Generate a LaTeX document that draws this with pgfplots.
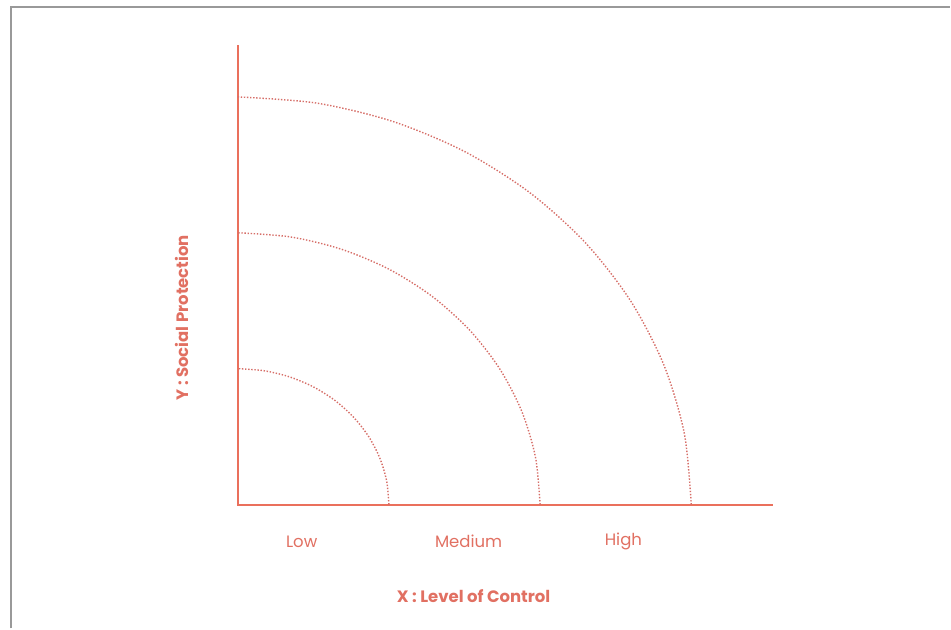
\documentclass[border=0pt]{standalone}
\usepackage{pgfplots}
\pgfplotsset{compat=1.18}
\usepackage{fontspec}
\setmainfont{Poppins}
\definecolor{coral}{RGB}{234,112,92}
\definecolor{coraltxt}{RGB}{225,112,98}
\definecolor{coraldot}{RGB}{214,110,104}
\begin{document}
\begin{tikzpicture}
\begin{axis}[
  scale only axis, width=951pt, height=629pt,
  xmin=-1.573, xmax=4.713, ymin=-0.912, ymax=3.713,
  hide axis, clip=false,
]
% full page extent
\path (rel axis cs:0,0) rectangle (rel axis cs:1,1);
% frame
\draw[gray!80, line width=1.6pt] (axis cs:-1.500,-0.912) -- (axis cs:-1.500,3.662) -- (axis cs:4.713,3.662);
% axes
\addplot[coral, line width=2pt, no marks] coordinates {(0,3.38) (0,0) (3.54,0)};
% arcs
\addplot[coraldot, line width=1.4pt, dash pattern=on 1.4pt off 1.7pt, smooth, no marks] coordinates {
(1,0) (0.9848,0.1736) (0.9397,0.3420) (0.8660,0.5) (0.7660,0.6428) (0.6428,0.7660) (0.5,0.8660) (0.3420,0.9397) (0.1736,0.9848) (0,1)};
\addplot[coraldot, line width=1.4pt, dash pattern=on 1.4pt off 1.7pt, smooth, no marks] coordinates {
(2,0) (1.9696,0.3473) (1.8794,0.6840) (1.7321,1) (1.5321,1.2856) (1.2856,1.5321) (1,1.7321) (0.6840,1.8794) (0.3473,1.9696) (0,2)};
\addplot[coraldot, line width=1.4pt, dash pattern=on 1.4pt off 1.7pt, smooth, no marks] coordinates {
(3,0) (2.9544,0.5209) (2.8191,1.0261) (2.5981,1.5) (2.2981,1.9284) (1.9284,2.2981) (1.5,2.5981) (1.0261,2.8191) (0.5209,2.9544) (0,3)};
% labels
\node[coraltxt, font=\fontsize{16.5}{19}\selectfont] at (axis cs:0.423,-0.272) {Low};
\node[coraltxt, font=\fontsize{16.5}{19}\selectfont] at (axis cs:1.527,-0.272) {Medium};
\node[coraltxt, font=\fontsize{16.5}{19}\selectfont] at (axis cs:2.551,-0.272) {High};
\node[coraltxt, font=\fontsize{16.5}{19}\selectfont\bfseries] at (axis cs:1.56,-0.676) {X : Level of Control};
\node[coraltxt, rotate=90, font=\fontsize{16.5}{19}\selectfont\bfseries] at (axis cs:-0.370,1.375) {Y : Social Protection};
\end{axis}
\end{tikzpicture}
\end{document}
